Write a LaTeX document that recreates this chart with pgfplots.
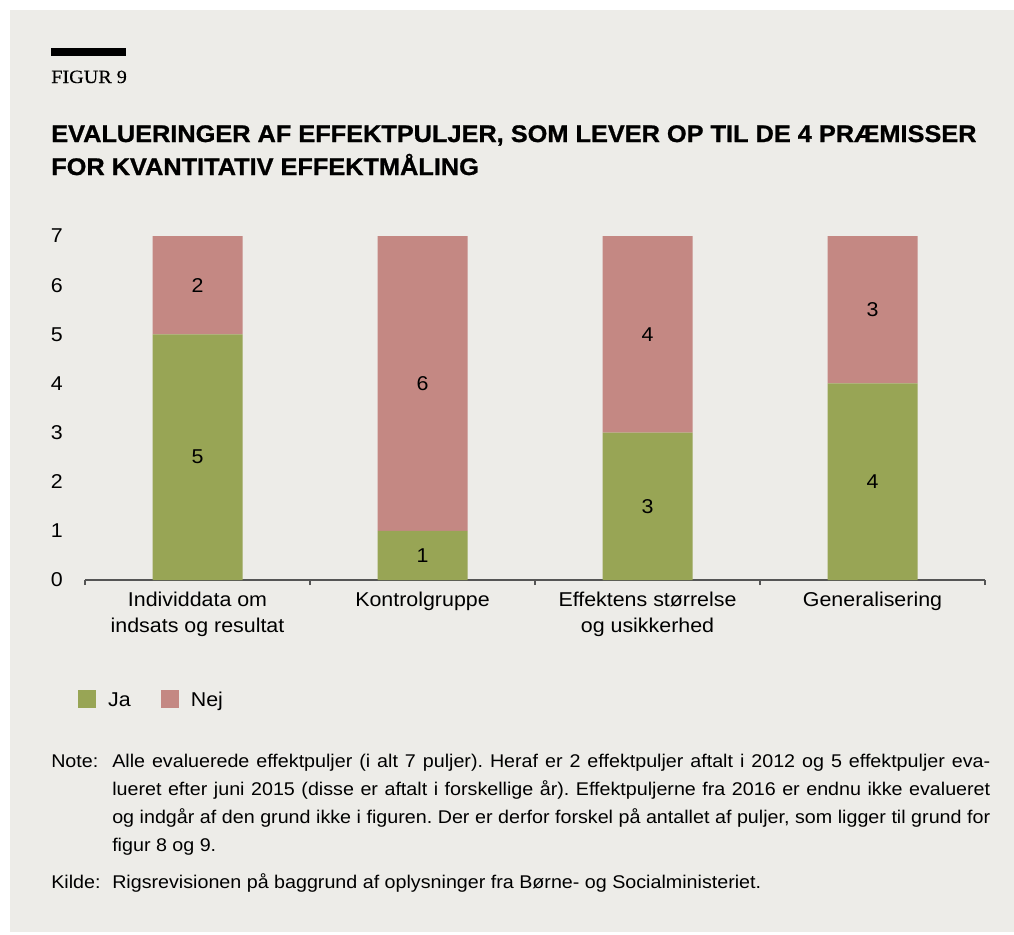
\documentclass[border=0pt]{standalone}
\usepackage{fontspec}
\setmainfont{Liberation Sans}[FakeStretch=1.07]
\newfontfamily\titlefont{Liberation Sans}[FakeStretch=1.055, BoldFeatures={FakeBold=1}]
\newfontfamily\seriffont{Liberation Serif}[FakeStretch=1.08, FakeBold=0.4]
\usepackage{pgfplots}
\pgfplotsset{compat=1.18}

\definecolor{bg}{HTML}{EDECE8}
\definecolor{ja}{HTML}{98A555}
\definecolor{nej}{HTML}{C48883}
\definecolor{axisgray}{HTML}{555555}

% shared axis geometry (1px = 0.75pt)
\pgfplotsset{
  frame/.style={
    at={(63.75pt,-435pt)}, anchor=south west,
    scale only axis, width=675pt, height=258pt,
    xmin=-0.5, xmax=3.5, ymin=0, ymax=7,
  }
}
\newcommand\notesize{\fontsize{13.8}{21}\selectfont}

\begin{document}
\frenchspacing
\begin{tikzpicture}
\begin{scope}[x=0.75pt,y=-0.75pt]
  \fill[white] (0,0) rectangle (1014,935);
  \fill[bg] (10,10) rectangle (1014,932);
  \fill[black] (51,48) rectangle (126,56);
  \node[anchor=base west, inner sep=0] at (51,83)
    {\seriffont\fontsize{14}{16}\selectfont FIGUR 9};
  \node[anchor=base west, inner sep=0] at (51,142)
    {\titlefont\fontsize{18}{20}\selectfont\bfseries EVALUERINGER AF EFFEKTPULJER, SOM LEVER OP TIL DE 4 PRÆMISSER};
  \node[anchor=base west, inner sep=0] at (51,175)
    {\titlefont\fontsize{18}{20}\selectfont\bfseries FOR KVANTITATIV EFFEKTMÅLING};
  % note and source
  \node[anchor=base west, inner sep=0] at (51,767) {\notesize Note:};
  \node[anchor=base west, inner sep=0] at (112,767)
    {\parbox[t]{658.5pt}{\notesize
      Alle evaluerede effektpuljer (i alt 7 puljer). Heraf er 2 effektpuljer aftalt i 2012 og 5 effektpuljer eva-\linebreak
      lueret efter juni 2015 (disse er aftalt i forskellige år). Effektpuljerne fra 2016 er endnu ikke evalueret\linebreak
      og indgår af den grund ikke i figuren. Der er derfor forskel på antallet af puljer, som ligger til grund for\linebreak
      figur 8 og 9.}};
  \node[anchor=base west, inner sep=0] at (51,888) {\notesize Kilde:};
  \node[anchor=base west, inner sep=0] at (112,888)
    {\notesize Rigsrevisionen på baggrund af oplysninger fra Børne- og Socialministeriet.};
\end{scope}

\begin{axis}[
  frame,
  ybar stacked, bar width=67.5pt,
  axis x line*=bottom, axis y line*=left,
  y axis line style={draw=none},
  x axis line style={draw=axisgray, line width=1.1pt},
  ytick={0,...,7}, major tick length=0pt,
  yticklabel style={anchor=east, inner sep=0pt, xshift=-16.5pt},
  xtick={0,1,2,3},
  xticklabels={{Individdata om\\indsats og resultat},{Kontrolgruppe},{Effektens størrelse\\og usikkerhed},{Generalisering}},
  xticklabel style={anchor=north, inner sep=0pt, yshift=-9pt, align=center},
  minor xtick={-0.5,0.5,1.5,2.5,3.5},
  minor tick length=3.75pt, tick align=outside,
  minor tick style={draw=axisgray, line width=1pt},
  tick label style={font=\fontsize{15}{19.5}\selectfont},
  /pgf/number format/assume math mode=true,
  legend columns=-1,
  legend style={at={(axis description cs:-0.0078,-0.346)}, anchor=west,
    draw=none, fill=none, inner sep=0pt,
    font=\fontsize{15}{18}\selectfont,
    nodes={inner sep=0pt, text height=10.7pt, text depth=0pt},
    /tikz/every odd column/.style={column sep=9pt},
    /tikz/every even column/.style={column sep=22.5pt}},
  legend image code/.code={\fill[#1] (0pt,-6.75pt) rectangle (13.5pt,6.75pt);},
]
\addplot[fill=ja, draw=none] coordinates {(0,5) (1,1) (2,3) (3,4)};
\addlegendentry{Ja}
\addplot[fill=nej, draw=none] coordinates {(0,2) (1,6) (2,4) (3,3)};
\addlegendentry{Nej}
\end{axis}

% segment labels
\begin{axis}[frame, hide axis]
\addplot[draw=none, mark=none, nodes near coords, point meta=explicit symbolic,
  every node near coord/.append style={anchor=center, inner sep=0pt,
    font=\fontsize{15}{18}\selectfont}]
  coordinates {(0,2.5)[5] (0,6)[2] (1,0.5)[1] (1,4)[6]
               (2,1.5)[3] (2,5)[4] (3,2)[4] (3,5.5)[3]};
\end{axis}
\end{tikzpicture}
\end{document}
